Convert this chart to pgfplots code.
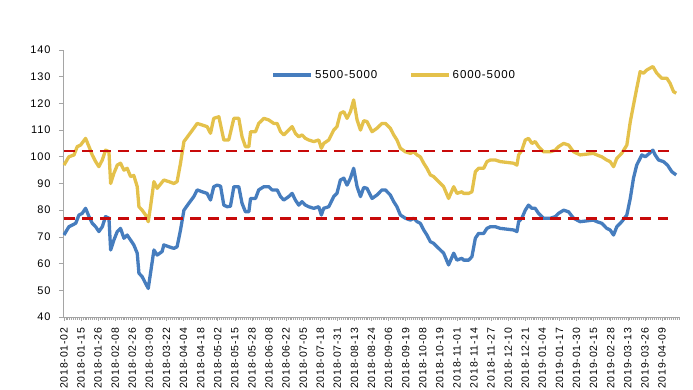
\documentclass[border=0pt]{standalone}
\usepackage{pgfplots}
\pgfplotsset{compat=1.18}
\usepackage{fontspec}
\setmainfont{Liberation Sans}
\newfontfamily\lab[LetterSpace=8]{Liberation Sans}
\definecolor{cblue}{RGB}{70,125,190}
\definecolor{cyel}{RGB}{228,193,75}
\definecolor{cred}{RGB}{200,10,10}
\definecolor{axg}{RGB}{165,165,165}
\begin{document}
\begin{tikzpicture}[x=1pt,y=1pt]
\useasboundingbox (-63,-73) rectangle (630,317);
\begin{axis}[
  at={(0,0)}, anchor=south west,
  scale only axis, width=617pt, height=267pt,
  xmin=-0.5, xmax=324.5, ymin=40, ymax=140,
  axis lines=left, axis line style={-, draw=axg, line width=0.8pt},
  ytick={40,50,...,140},
  xtick={0,9,...,315},
  minor xtick={0,1,...,324},
  xticklabels={2018-01-02,2018-01-15,2018-01-26,2018-02-08,2018-02-26,2018-03-09,2018-03-22,2018-04-04,2018-04-18,2018-05-02,2018-05-15,2018-05-28,2018-06-08,2018-06-22,2018-07-05,2018-07-18,2018-07-31,2018-08-13,2018-08-24,2018-09-06,2018-09-19,2018-10-08,2018-10-19,2018-11-01,2018-11-14,2018-11-27,2018-12-10,2018-12-21,2019-01-04,2019-01-17,2019-01-30,2019-02-15,2019-02-28,2019-03-13,2019-03-26,2019-04-09},
  tick align=outside,
  major tick length=4pt, minor tick length=3pt,
  tick style={draw=axg, line width=0.6pt},
  xtick pos=bottom, ytick pos=left,
  /pgf/number format/assume math mode=true,
  yticklabel style={font=\lab\fontsize{11}{12}\selectfont, xshift=-5pt},
  xticklabel style={font=\lab\fontsize{10.5}{12}\selectfont, rotate=90, anchor=east, yshift=0pt, xshift=-3pt},
  legend columns=2,
  legend style={at={(0.338,0.906)}, anchor=west, draw=none, fill=none, inner sep=0pt,
    font=\lab\fontsize{11.5}{13}\selectfont,
    /tikz/every even column/.append style={column sep=30pt}},
  legend image code/.code={\draw[#1] (0pt,0pt) -- (38pt,0pt);},
  line join=round,
]
\addplot[cblue, line width=3.3pt] table {
0 70.7
2.6 73.8
6.2 75.1
7.9 78.2
9.6 78.8
11.4 80.7
13.2 77.6
14.9 75.1
16.7 73.8
18.4 72.0
20.2 73.8
21.9 77.6
23.7 77.0
24.6 65.1
26.3 68.8
28.1 72.0
29.8 73.2
31.6 69.5
33.3 70.7
35.1 68.8
36.8 67.0
38.6 63.9
39.5 56.4
41.2 55.1
43.0 52.6
44.4 50.7
45.6 56.4
47.4 65.1
49.1 63.2
51.7 64.5
52.6 67.0
55.3 66.3
57.9 65.7
59.6 66.3
61.4 72.6
63.2 80.0
65.8 82.6
68.4 85.1
70.2 87.6
72.8 86.9
75.4 86.3
77.2 83.8
78.9 88.8
80.7 89.4
82.5 89.0
84.2 81.9
86.0 81.3
87.7 81.5
89.5 88.8
92.1 88.8
93.8 82.6
95.6 79.4
97.4 79.4
98.3 84.4
100.9 84.4
102.6 87.6
105.3 88.8
107.9 88.8
109.6 87.6
112.3 87.6
114.1 85.1
115.8 83.8
118.4 85.1
120.2 86.3
121.9 83.8
123.7 81.9
125.4 83.2
127.2 81.9
128.9 81.3
131.6 80.7
134.2 81.3
135.6 78.2
136.8 80.7
139.5 81.3
142.1 85.1
143.8 86.3
145.6 91.3
147.4 92.0
149.1 89.4
150.9 92.0
152.6 95.7
154.4 88.8
156.2 85.1
157.9 88.5
159.6 88.2
162.3 84.4
164.9 85.7
167.5 87.6
169.3 87.6
171.9 85.7
173.7 83.2
175.4 81.3
177.2 78.2
179.8 77.0
182.5 76.3
184.2 77.0
186.0 75.7
187.7 75.1
189.5 72.6
191.2 70.7
193.0 68.2
194.7 67.6
197.4 65.7
200.0 63.9
202.6 59.5
205.3 63.9
207.0 61.3
209.6 62.0
210.5 61.3
213.2 61.3
214.9 62.6
216.7 69.5
218.4 71.3
221.1 71.3
222.8 73.2
224.6 73.8
227.2 73.8
229.8 73.2
236.8 72.6
238.6 72.0
239.5 75.7
241.2 77.0
243.0 80.0
244.7 81.9
246.5 80.7
248.2 80.7
250.0 78.8
252.6 77.0
256.2 77.0
258.8 77.6
260.5 78.8
263.2 80.0
265.8 79.4
268.4 77.0
271.9 75.7
278.9 76.3
280.7 75.7
283.3 75.1
285.9 73.2
287.7 72.6
289.5 70.7
291.2 73.8
293.8 75.7
296.5 78.2
298.3 84.4
300.0 92.0
301.7 96.9
304.4 100.7
306.2 100.0
308.4 101.3
310.2 102.5
311.4 100.7
313.2 98.8
315.8 98.2
317.9 96.9
320.2 94.4
322.5 93.2
};
\addlegendentry{5500-5000}
\addplot[cyel, line width=3.3pt] table {
0 96.9
2.6 100.0
5.3 100.7
7.0 103.8
8.8 104.4
11.4 106.9
13.2 103.8
14.9 100.7
16.7 98.2
18.4 96.3
20.2 98.8
21.9 102.5
23.7 101.9
24.6 90.0
26.3 93.8
28.1 96.9
29.8 97.6
31.6 95.0
33.3 95.7
35.1 92.6
36.8 93.0
38.6 88.8
39.5 81.3
41.2 80.0
43.0 78.2
44.4 75.7
45.6 81.3
47.4 90.7
49.1 88.2
52.6 91.3
55.3 90.7
57.9 90.0
59.6 90.7
61.4 97.6
63.2 105.7
65.8 108.2
68.4 110.7
70.2 112.5
72.8 111.9
75.4 111.3
77.2 108.8
78.9 114.4
81.6 115.0
84.2 106.3
86.8 106.3
89.5 114.4
92.1 114.4
93.8 107.5
95.6 103.8
97.4 103.8
98.3 109.4
100.9 109.4
102.6 112.5
105.3 114.4
107.9 113.8
110.5 112.5
112.3 112.5
114.1 109.4
115.8 108.2
118.4 110.0
120.2 111.3
121.9 108.8
123.7 107.5
125.4 108.2
127.2 106.9
128.9 106.3
131.6 105.7
134.2 106.3
135.6 103.2
136.8 105.0
139.5 106.3
142.1 110.0
143.8 111.3
145.6 116.3
147.4 116.9
149.1 114.4
150.9 116.9
152.6 121.3
154.4 113.8
156.2 110.0
157.9 113.5
159.6 113.2
162.3 109.4
164.9 110.7
167.5 112.5
169.3 112.5
171.9 110.7
173.7 108.2
175.4 106.3
177.2 103.2
179.8 101.9
182.5 101.3
184.2 101.9
186.0 100.7
187.7 100.0
189.5 97.6
191.2 95.7
193.0 93.2
194.7 92.6
197.4 90.7
200.0 88.8
202.6 84.4
205.3 88.8
207.0 86.3
209.6 86.9
210.5 86.3
213.2 86.3
214.9 86.9
216.7 94.4
218.4 95.7
221.1 95.7
222.8 98.2
224.6 98.8
227.2 98.8
229.8 98.2
236.8 97.6
238.6 96.9
239.5 100.7
241.2 102.5
243.0 106.3
244.7 106.9
246.5 105.0
248.2 105.7
250.0 103.8
252.6 101.9
256.2 101.9
258.8 102.5
260.5 103.8
263.2 105.0
265.8 104.4
268.4 101.9
271.9 100.7
278.9 101.3
280.7 100.7
283.3 100.0
285.9 98.8
287.7 98.2
289.5 96.3
291.2 99.4
293.8 101.3
296.5 104.4
298.3 113.1
300.0 119.4
301.7 125.6
303.5 131.9
305.3 131.3
307.0 132.5
310.2 133.8
312.3 131.3
314.9 129.4
317.6 129.4
319.3 127.5
321.1 124.4
322.5 123.8
};
\addlegendentry{6000-5000}
\addplot[cred, line width=2.6pt, dash pattern=on 11pt off 7pt, forget plot] coordinates {(0,102.2) (322,102.2)};
\addplot[cred, line width=2.6pt, dash pattern=on 11pt off 7pt, forget plot] coordinates {(0,77.0) (318,77.0)};
\end{axis}
\end{tikzpicture}
\end{document}
